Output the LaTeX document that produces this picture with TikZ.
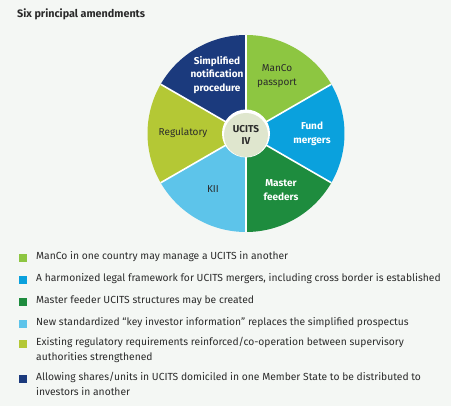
\documentclass[tikz,border=0pt]{standalone}
\usepackage{fontspec}
\setmainfont{Fira Sans}
\definecolor{bg}{HTML}{F4F7F4}
\definecolor{cManCo}{HTML}{8DC641}
\definecolor{cFund}{HTML}{0AA1DD}
\definecolor{cMaster}{HTML}{1E8C3E}
\definecolor{cKII}{HTML}{5DC4EA}
\definecolor{cReg}{HTML}{B4C835}
\definecolor{cSimp}{HTML}{1B3A7D}
\definecolor{cCenter}{HTML}{DFE6CE}
\definecolor{txt}{HTML}{2B2B2B}
\begin{document}
\begin{tikzpicture}[x=1pt,y=-1pt,
  wedgelbl/.style={align=center,font=\fontsize{10}{13.5}\selectfont,inner sep=0pt},
  darklbl/.style={wedgelbl,text=txt},
  lightlbl/.style={wedgelbl,text=white,font=\fontsize{10}{13.5}\selectfont\bfseries},
  legsq/.style={minimum size=8pt,inner sep=0pt},
  legtxt/.style={anchor=west,align=left,text=txt,font=\fontsize{10.3}{15}\selectfont,inner sep=0pt}]
\fill[bg] (0,0) rectangle (451,406);
\useasboundingbox (0,0) rectangle (451,406);
\node[anchor=west,text=txt,font=\fontsize{10.8}{12}\selectfont\bfseries,inner sep=0pt] (title) at (17,14) {Six principal amendments};
\coordinate (c) at (246,133.5);
\def\R{98.5}
\fill[cManCo] (c) -- ++(90:-\R) arc[start angle=-90,end angle=-30,radius=\R] -- cycle;
\fill[cFund] (c) -- ++(-30:\R) arc[start angle=-30,end angle=30,radius=\R] -- cycle;
\fill[cMaster] (c) -- ++(30:\R) arc[start angle=30,end angle=90,radius=\R] -- cycle;
\fill[cKII] (c) -- ++(90:\R) arc[start angle=90,end angle=150,radius=\R] -- cycle;
\fill[cReg] (c) -- ++(150:\R) arc[start angle=150,end angle=210,radius=\R] -- cycle;
\fill[cSimp] (c) -- ++(210:\R) arc[start angle=210,end angle=270,radius=\R] -- cycle;
\foreach \a in {30,90,150,210,270,330} \draw[white,line width=1.6pt] (c) -- ++(\a:\R);
\fill[white] (c) circle (24);
\node[circle,fill=cCenter,minimum size=44pt,inner sep=0pt,align=center,text=txt,font=\fontsize{10}{12.5}\selectfont\bfseries] (center) at (246,135) {UCITS\\IV};
\node[lightlbl] (simp) at (217,75) {Simplified\\notification\\procedure};
\node[darklbl] (manco) at (277,76) {ManCo\\passport};
\node[lightlbl] (fund) at (312,134) {Fund\\mergers};
\node[lightlbl] (master) at (281,190) {Master\\feeders};
\node[darklbl] (kii) at (213,189) {KII};
\node[darklbl] (reg) at (183,133) {Regulatory};
% legend
\node[legsq,fill=cManCo] (s1) at (23,258) {};
\node[legtxt] (t1) at (36,257) {ManCo in one country may manage a UCITS in another};
\node[legsq,fill=cFund] (s2) at (23,280) {};
\node[legtxt] (t2) at (36,279) {A harmonized legal framework for UCITS mergers, including cross border is established};
\node[legsq,fill=cMaster] (s3) at (23,302) {};
\node[legtxt] (t3) at (36,301) {Master feeder UCITS structures may be created};
\node[legsq,fill=cKII] (s4) at (23,324) {};
\node[legtxt] (t4) at (36,323) {New standardized “key investor information” replaces the simplified prospectus};
\node[legsq,fill=cReg] (s5) at (23,344) {};
\node[legtxt,anchor=north west] (t5) at (36,337) {Existing regulatory requirements reinforced/co-operation between supervisory\\authorities strengthened};
\node[legsq,fill=cSimp] (s6) at (23,379) {};
\node[legtxt,anchor=north west] (t6) at (36,372) {Allowing shares/units in UCITS domiciled in one Member State to be distributed to\\investors in another};
\end{tikzpicture}
\end{document}
